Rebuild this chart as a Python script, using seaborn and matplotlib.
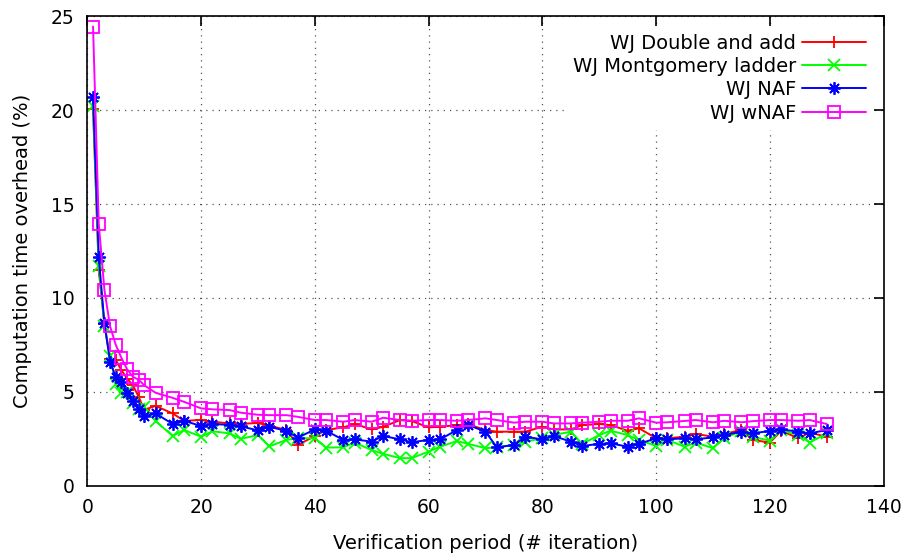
import numpy as np
import pandas as pd
import matplotlib
matplotlib.use("Agg")
import matplotlib.pyplot as plt
import seaborn as sns

# Verification period (x) and overhead (%) per algorithm
period = [1, 2, 3, 4, 5, 6, 7, 8, 9, 10, 12, 15, 17, 20, 22, 25, 27, 30, 32, 35,
          37, 40, 42, 45, 47, 50, 52, 55, 57, 60, 62, 65, 67, 70, 72, 75, 77, 80,
          82, 85, 87, 90, 92, 95, 97, 100, 102, 105, 107, 110, 112, 115, 117,
          120, 122, 125, 127, 130]

double_add = [20.05, 11.5, 8.6, 6.75, 6.7, 6.15, 5.7, 5.35, 4.75, 4.05, 4.25, 3.85,
              3.46, 3.5, 3.41, 3.32, 3.3, 3.34, 3.2, 2.97, 2.17, 2.65, 2.97, 3.11,
              3.29, 3.0, 3.14, 3.5, 3.45, 3.11, 3.14, 3.23, 3.27, 2.97, 2.88, 2.88,
              2.88, 3.14, 3.0, 3.0, 3.23, 3.29, 3.23, 2.93, 3.06, 2.53, 2.53, 2.61,
              2.76, 2.61, 2.76, 2.97, 2.44, 2.3, 2.93, 2.53, 2.83, 2.61]

montgomery = [20.2, 11.7, 8.5, 6.9, 5.4, 4.95, 5.0, 4.4, 4.1, 4.2, 3.45, 2.65,
              2.97, 2.61, 2.9, 2.79, 2.5, 2.7, 2.1, 2.44, 2.53, 2.53, 2.03, 2.05,
              2.3, 1.9, 1.7, 1.47, 1.47, 1.82, 2.08, 2.38, 2.23, 2.0, 2.05, 2.17,
              2.35, 2.53, 2.7, 2.88, 2.23, 2.7, 2.93, 2.7, 2.44, 2.12, 2.44, 2.08,
              2.3, 2.0, 2.53, 2.93, 2.6, 2.4, 2.97, 2.7, 2.3, 2.79]

naf = [20.7, 12.2, 8.65, 6.6, 5.8, 5.55, 4.95, 4.5, 4.1, 3.7, 3.85, 3.29, 3.46,
       3.18, 3.3, 3.23, 3.16, 2.95, 3.14, 2.92, 2.56, 3.0, 2.93, 2.44, 2.47,
       2.35, 2.65, 2.47, 2.32, 2.44, 2.47, 2.97, 3.23, 2.88, 2.05, 2.17, 2.61,
       2.47, 2.65, 2.35, 2.12, 2.23, 2.26, 2.08, 2.23, 2.53, 2.47, 2.53, 2.47,
       2.58, 2.7, 2.88, 2.79, 2.92, 3.0, 2.88, 2.79, 2.97]

wnaf = [24.45, 13.96, 10.43, 8.48, 7.5, 6.8, 6.2, 5.8, 5.65, 5.35, 4.95, 4.68,
        4.47, 4.12, 4.07, 4.03, 3.89, 3.78, 3.76, 3.76, 3.67, 3.5, 3.5, 3.41,
        3.5, 3.41, 3.62, 3.5, 3.46, 3.5, 3.5, 3.46, 3.5, 3.59, 3.5, 3.36, 3.41,
        3.41, 3.32, 3.32, 3.36, 3.41, 3.46, 3.46, 3.59, 3.36, 3.38, 3.45, 3.5,
        3.38, 3.46, 3.38, 3.44, 3.5, 3.5, 3.46, 3.5, 3.29]

labels = ["WJ Double and add", "WJ Montgomery ladder", "WJ NAF", "WJ wNAF"]
colors = ["#ff0000", "#00ff00", "#0000ff", "#ff00ff"]
markers = ["+", "x", (8, 2, 0), "s"]

df = pd.DataFrame({"period": period, labels[0]: double_add, labels[1]: montgomery,
                   labels[2]: naf, labels[3]: wnaf})

sns.set_style("white")
plt.rcParams["font.family"] = ["DejaVu Sans"]
plt.rcParams["text.color"] = "black"
plt.rcParams["axes.labelcolor"] = "black"
plt.rcParams["xtick.color"] = "black"
plt.rcParams["ytick.color"] = "black"

fig = plt.figure(figsize=(9.1, 5.59), dpi=100)
ax = fig.add_axes([0.096, 0.131, 0.875, 0.84])

for lab, col, mk in zip(labels, colors, markers):
    kw = dict(markersize=9, markeredgewidth=1.3)
    if mk == "s":
        kw = dict(markersize=8, markeredgewidth=1.3, markerfacecolor="none")
    sns.lineplot(data=df, x="period", y=lab, ax=ax, color=col, marker=mk,
                 markeredgecolor=col, linewidth=1.4, label=lab, **kw)

ax.set_xlim(0, 140)
ax.set_ylim(0, 25)
ax.set_xticks(np.arange(0, 141, 20))
ax.set_yticks(np.arange(0, 26, 5))
ax.set_xlabel("Verification period (# iteration)", fontsize=14, labelpad=12)
ax.set_ylabel("Computation time overhead (%)", fontsize=14, labelpad=14)
ax.grid(True, linestyle=(0, (1, 4)), color="#555555", linewidth=0.9)
ax.tick_params(direction="in", length=7, width=1.2, top=True, right=True,
               labelsize=13.5, pad=9)
for s in ax.spines.values():
    s.set_color("black")
    s.set_linewidth(1.2)

leg = ax.legend(loc="upper right", markerfirst=False, frameon=True,
                fancybox=False, framealpha=1, edgecolor="white",
                fontsize=14, handlelength=3.3, handletextpad=0.3,
                labelspacing=0.22, borderaxespad=0.5)
leg.get_frame().set_linewidth(0)

fig.savefig("out.png", dpi=100)
